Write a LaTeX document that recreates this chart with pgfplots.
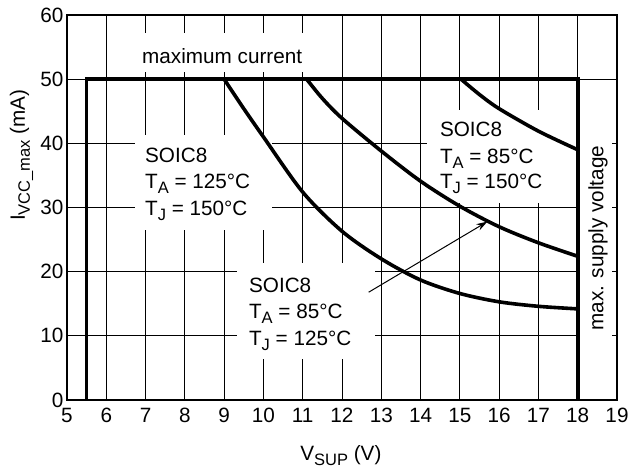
\documentclass[border=0pt]{standalone}
\usepackage{fontspec}
\setmainfont{Liberation Sans}
\usepackage{pgfplots}
\pgfplotsset{compat=1.18}
\usetikzlibrary{arrows.meta}
\newcommand{\lo}[1]{\raisebox{-5bp}{\fontsize{16.5bp}{18bp}\selectfont #1}}
\begin{document}
\begin{tikzpicture}[font=\fontsize{20.7bp}{24bp}\selectfont]
\path[use as bounding box] (-67bp,-72bp) rectangle (562bp,400bp);
\begin{axis}[
  at={(0,0)}, anchor=south west, scale only axis,
  width=550bp, height=385bp,
  xmin=5, xmax=19, ymin=0, ymax=60,
  xtick={5,...,19}, ytick={0,10,...,60},
  grid=major, major grid style={black, line width=0.9bp},
  axis line style={black, line width=1.1bp},
  major tick length=0pt,
  /pgf/number format/assume math mode=true,
  xticklabel style={yshift=-5bp},
  xlabel={V\lo{SUP} (V)},
  ylabel={I\lo{VCC\_max} (mA)},
  xlabel style={at={(axis description cs:0.498,-0.156)}, anchor=base},
  ylabel style={at={(axis description cs:-0.0764,0.636)}, anchor=base},
  thickline/.style={black, line width=3.6bp},
]
% white boxes behind labels
\fill[white] (axis cs:6.81,51.1) rectangle (axis cs:11.18,57.2);
\fill[white] (axis cs:6.73,26.5) rectangle (axis cs:10.22,41.3);
\fill[white] (axis cs:14.16,30.7) rectangle (axis cs:17.95,45.2);
\fill[white] (axis cs:9.33,6.4) rectangle (axis cs:12.84,21.35);
\fill[white] (axis cs:18.05,9.0) rectangle (axis cs:18.88,40.5);

% boundary
\addplot[thickline, sharp plot] coordinates {(5.5,0) (5.5,50) (18,50) (18,0)};
% SOIC8 TA=125 TJ=150
\addplot[thickline, smooth] coordinates {
 (9,50) (9.5,45.4) (10,41.0) (11,32.4) (12,26.3) (13,22.0) (14,18.7) (15,16.6) (16,15.3) (17,14.6) (18,14.2)};
% SOIC8 TA=85 TJ=125
\addplot[thickline, smooth] coordinates {
 (11.1,50) (11.5,47.0) (12,43.9) (13,38.8) (14,34.1) (15,30.2) (16,27.0) (17,24.5) (18,22.4)};
% SOIC8 TA=85 TJ=150
\addplot[thickline, smooth] coordinates {
 (15.03,50) (15.5,47.6) (16,45.4) (17,41.9) (18,39.0)};

\node[anchor=base west, inner sep=0pt] at (axis cs:6.91,52.5) {maximum current};

\node[anchor=base west, inner sep=0pt] at (axis cs:6.985,37.0) {SOIC8};
\node[anchor=base west, inner sep=0pt] at (axis cs:6.985,32.9) {T\lo{A} = 125°C};
\node[anchor=base west, inner sep=0pt] at (axis cs:6.985,28.8) {T\lo{J} = 150°C};

\node[anchor=base west, inner sep=0pt] at (axis cs:14.49,41.0) {SOIC8};
\node[anchor=base west, inner sep=0pt] at (axis cs:14.49,36.9) {T\lo{A} = 85°C};
\node[anchor=base west, inner sep=0pt] at (axis cs:14.49,33.0) {T\lo{J} = 150°C};

\node[anchor=base west, inner sep=0pt] at (axis cs:9.63,16.83) {SOIC8};
\node[anchor=base west, inner sep=0pt] at (axis cs:9.63,12.73) {T\lo{A} = 85°C};
\node[anchor=base west, inner sep=0pt] at (axis cs:9.63,8.57) {T\lo{J} = 125°C};

\node[rotate=90, anchor=base, inner sep=0pt] at (axis cs:18.65,25.2) {max. supply voltage};

\draw[black, line width=1bp, -{Stealth[length=11bp,width=7bp]}] (axis cs:12.68,16.8) -- (axis cs:15.70,27.8);
\end{axis}
\end{tikzpicture}
\end{document}
